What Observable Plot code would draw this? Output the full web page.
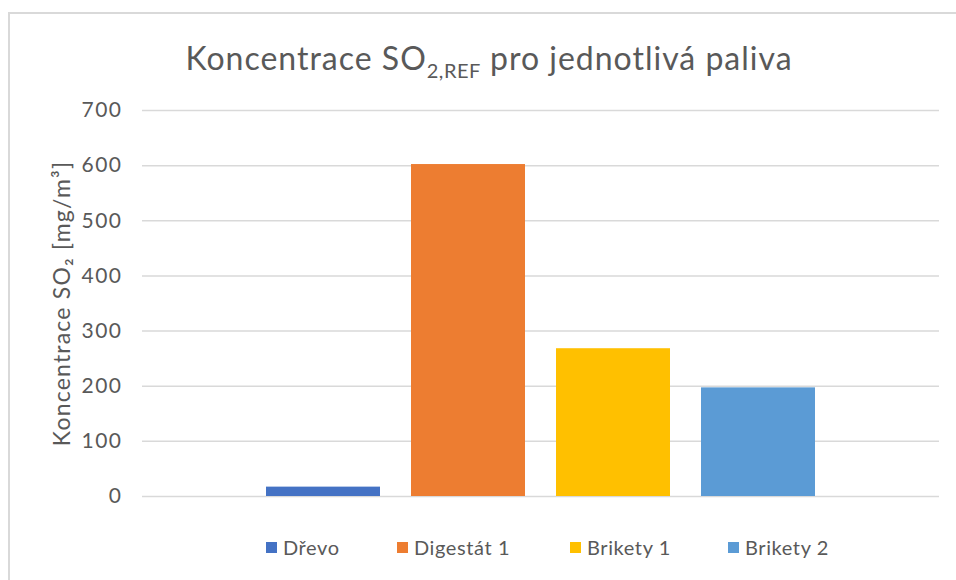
<!DOCTYPE html>
<html>
<head>
<meta charset="utf-8">
<script src="https://cdn.jsdelivr.net/npm/d3@7"></script>
<script src="https://cdn.jsdelivr.net/npm/@observablehq/plot@0.6"></script>
<style>
  html, body { margin: 0; padding: 0; background: #fff; }
  body { width: 956px; height: 580px; overflow: hidden; position: relative; font-family: Lato, "Open Sans", sans-serif; color: #595959; }
  #frame { position: absolute; left: 8px; top: 12px; width: 980px; height: 600px; border: 2px solid #d9d9d9; box-sizing: border-box; pointer-events: none; }
  #title { position: absolute; left: 0; top: 0; width: 956px; height: 95px; text-align: center; font-size: 32px; letter-spacing: 1px; line-height: 32px; padding-top: 42px; box-sizing: border-box; padding-left: 22px; }
  #title sub { font-size: 20px; vertical-align: -8px; line-height: 0; letter-spacing: 0.5px; }
  #chart { position: absolute; left: 0; top: 95px; }
  #legend { position: absolute; left: 0; top: 534px; width: 956px; height: 26px; }
  .item { position: absolute; top: 0; display: flex; align-items: center; font-size: 20px; letter-spacing: 0.6px; height: 26px; }
  .sw { width: 11px; height: 11px; margin-right: 6px; display: inline-block; }
</style>
</head>
<body>
<div id="frame"></div>
<div id="title">Koncentrace SO<sub>2,REF</sub> pro jednotlivá paliva</div>
<div id="chart"></div>
<div id="legend"></div>
<script>
const fuels = ["Dřevo", "Digestát 1", "Brikety 1", "Brikety 2"];
const so2 = [17, 602, 268, 197];
const colors = ["#4472C4", "#ED7D31", "#FFC000", "#5B9BD5"];
const yTicks = [0, 100, 200, 300, 400, 500, 600, 700];
const yLabel = "Koncentrace SO₂ [mg/m³]";
const legendX = [266, 397, 570, 728];

const data = fuels.map((f, i) => ({fuel: f, value: so2[i]}));

const plot = Plot.plot({
  width: 956,
  height: 425,
  marginLeft: 142,
  marginRight: 17,
  marginTop: 15,
  marginBottom: 24,
  style: {fontFamily: "Lato, 'Open Sans', sans-serif", fontSize: "21px", color: "#595959", background: "transparent", overflow: "visible"},
  x: {domain: fuels, paddingInner: 0.214, paddingOuter: 0.855, axis: null},
  y: {domain: [0, 700], ticks: yTicks, label: null},
  color: {domain: fuels, range: colors},
  marks: [
    Plot.gridY(yTicks, {stroke: "#d9d9d9", strokeOpacity: 1, strokeWidth: 1.5}),
    Plot.barY(data, {x: "fuel", y: "value", fill: "fuel"}),
    Plot.axisY(yTicks, {tickSize: 0, tickPadding: 20, fontSize: 21, fill: "#595959", label: null}),
    Plot.text([yLabel], {frameAnchor: "left", textAnchor: "middle", dx: -80, rotate: -90, fontSize: 23, fill: "#595959", text: d => d})
  ]
});
d3.select(plot).selectAll("[aria-label='y-axis tick label'] text").attr("letter-spacing", "1.5px");
d3.select(plot).selectAll("[aria-label='text'] text").attr("letter-spacing", "1.2px");
document.getElementById("chart").appendChild(plot);

const leg = document.getElementById("legend");
fuels.forEach((f, i) => {
  const it = document.createElement("div");
  it.className = "item";
  it.style.left = legendX[i] + "px";
  const sw = document.createElement("span");
  sw.className = "sw";
  sw.style.background = colors[i];
  it.appendChild(sw);
  it.appendChild(document.createTextNode(f));
  leg.appendChild(it);
});
</script>
</body>
</html>
